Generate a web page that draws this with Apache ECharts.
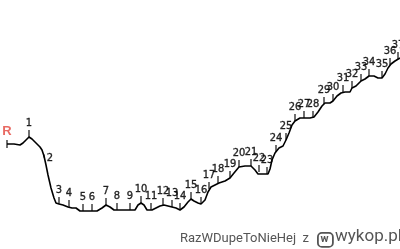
<!DOCTYPE html>
<html><head><meta charset="utf-8">
<script src="https://cdn.jsdelivr.net/npm/echarts@6/dist/echarts.min.js"></script>
<style>html,body{margin:0;padding:0;background:#fff}#c{width:400px;height:249px}</style>
</head><body><div id="c"></div>
<script>
// profile path: distance (px along) and elevation
const profileDist = [7,14,20,23,26,29,32,36,40,42,44,46,48,51,54,56,59,63,68,72,76,80,86,92,97,102,106,110,114,120,125,130,135,138,141,144,147,152,156,160,164,168,172,176,180,184,188,191,194,198,201,205,208,211,215,219,225,230,234,239,245,251,255,258,263,268,270,272,275,279,283,286,289,292,295,300,305,310,314,318,322,325,330,333,337,341,345,350,352,356,361,365,369,374,378,382,385,388,391,395,400];
const profileY = [144,144,145,143,140,137,139,143,147,150,156,165,175,188,198,203,204,205,207,208,208,211,211,211,211,208,205,207,210,210,210,210,210,205,203,205,210,210,208,206,205,206,207,208,210,207,202,199,201,203,204,200,192,187,185,183,181,178,173,167,166,166,170,174,174,174,169,160,153,148,146,140,133,125,121,118,118,118,117,112,106,103,103,101,96,93,92,92,88,86,81,79,76,76,78,78,74,68,64,61,58];
const stationNames = ['1','2','3','4','5','6','7','8','9','10','11','12','13','14','15','16','17','18','19','20','21','22','23','24','25','26','27','28','29','30','31','32','33','34','35','36','37'];
const stationDist = [29,44,59,69,83,92,106,117,130,141,151,163,172,180,191,201,209,218,230,239,251,259,267,276,286,295,304,313,324,333,343,352,361,369,382,390,398];
const stationY = [137,156,204,207,211,211,205,210,210,203,210,205,207,210,199,204,189,183,178,167,166,172,174,152,140,121,118,118,104,101,92,88,81,76,78,65,59];
const H = 249;
const line = profileDist.map((d,i)=>[d, H - profileY[i]]);
const font = '"Liberation Sans Narrow","DejaVu Sans Condensed",sans-serif';
const stations = stationDist.map((d,i)=>{
  const o = {value:[d, H - stationY[i]], name: stationNames[i]};
  if (stationNames[i] === '2') {
    o.symbolSize = [1.3, 3];
    o.symbolOffset = [0, 0];
    o.label = {position:'right', distance:2, offset:[0,2]};
  }
  return o;
});
const chart = echarts.init(document.getElementById('c'), null, {renderer:'canvas'});
chart.setOption({
  animation:false,
  grid:{left:0,right:0,top:0,bottom:0},
  xAxis:{type:'value',min:0,max:400,show:false},
  yAxis:{type:'value',min:0,max:H,show:false},
  series:[
    {type:'line',data:line,symbol:'none',lineStyle:{color:'#000',width:1.6},z:2},
    {type:'scatter',data:stations,symbol:'rect',symbolSize:[1.4,7],symbolOffset:[0,-3.5],
     itemStyle:{color:'#000'},
     label:{show:true,position:'top',distance:1,formatter:p=>p.name,color:'#000',fontSize:11,fontFamily:font,textBorderColor:'#000',textBorderWidth:0.4},
     z:3},
    {type:'scatter',data:[[7,H-144]],symbol:'rect',symbolSize:[1.4,8],itemStyle:{color:'#000'},
     label:{show:true,position:'top',distance:2,formatter:'R',color:'#e2453c',fontSize:13,fontWeight:'bold',fontFamily:'"Liberation Sans",sans-serif'},z:3}
  ],
  graphic:[
    {type:'text',left:180,top:232,style:{text:'RazWDupeToNieHej  z',fill:'#555',font:'13px "Roboto",sans-serif'}},
    {type:'rect',left:317,top:232,shape:{width:15,height:14,r:4},style:{fill:'#fff',stroke:'#555',lineWidth:1.8}},
    {type:'text',x:324.5,y:239,style:{text:'w',fill:'#555',font:'bold 11px "Roboto",sans-serif',align:'center',verticalAlign:'middle'}},
    {type:'text',left:335,top:228,style:{text:'wykop.pl',fill:'#555',font:'17px "Roboto",sans-serif'}}
  ]
});
</script></body></html>
